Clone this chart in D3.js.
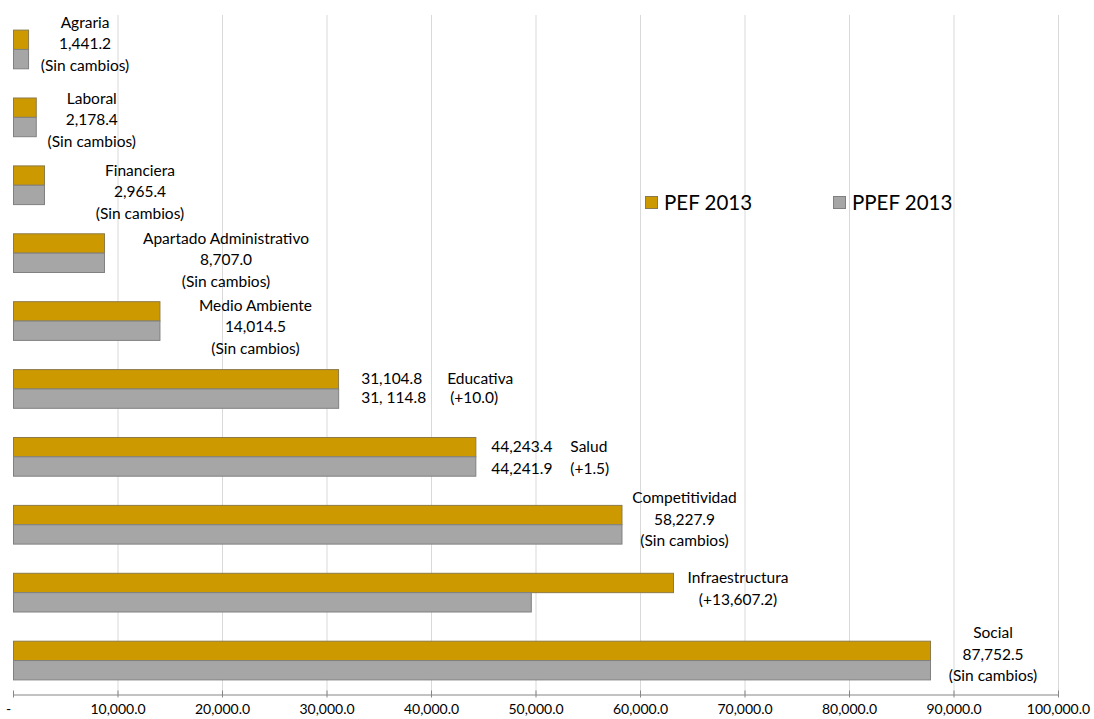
<!DOCTYPE html>
<html><head><meta charset="utf-8">
<script src="https://cdn.jsdelivr.net/npm/d3@7"></script>
<style>body{margin:0;background:#fff;} text{font-family:Lato,"Open Sans",sans-serif;}</style>
</head><body>
<svg id="c" width="1094" height="719"></svg>
<script>
const categories = ["Agraria","Laboral","Financiera","Apartado Administrativo","Medio Ambiente","Educativa","Salud","Competitividad","Infraestructura","Social"];
const pef2013  = [1441.2, 2178.4, 2965.4, 8707.0, 14014.5, 31104.8, 44243.4, 58227.9, 63157.2, 87752.5];
const ppef2013 = [1441.2, 2178.4, 2965.4, 8707.0, 14014.5, 31114.8, 44241.9, 58227.9, 49550.0, 87752.5];
const seriesNames = ["PEF 2013","PPEF 2013"];
const tickValues = [0,10000,20000,30000,40000,50000,60000,70000,80000,90000,100000];
const tickLabels = ["-","10,000.0","20,000.0","30,000.0","40,000.0","50,000.0","60,000.0","70,000.0","80,000.0","90,000.0","100,000.0"];
// annotation text lines per category
const annotations = [
  ["Agraria","1,441.2","(Sin cambios)"],
  ["Laboral","2,178.4","(Sin cambios)"],
  ["Financiera","2,965.4","(Sin cambios)"],
  ["Apartado Administrativo","8,707.0","(Sin cambios)"],
  ["Medio Ambiente","14,014.5","(Sin cambios)"],
  null,
  null,
  ["Competitividad","58,227.9","(Sin cambios)"],
  ["Infraestructura","(+13,607.2)"],
  ["Social","87,752.5","(Sin cambios)"]
];
const splitAnnotations = {5: {vals:["31,104.8","31, 114.8"], name:["Educativa","(+10.0)"]},
                          6: {vals:["44,243.4","44,241.9"], name:["Salud","(+1.5)"]}};
// layout offsets (label placement relative to bar end / group centre)
const labelDx = [57,56,96,122,96,0,0,63,65,63];
const labelDy = [-26,-18,-14,-14,-15,0,0,-26,-14,-27];

const colors = ["#CC9A00","#A6A6A6"];
const strokes = ["#8c7a4a","#808080"];

const svg = d3.select("#c");
const x = d3.scaleLinear().domain([0,100000]).range([13,1058]);
const y = d3.scaleBand().domain(categories).range([15,694]).paddingInner(0.43).paddingOuter(0.215);
const sub = d3.scaleBand().domain(seriesNames).range([0,y.bandwidth()]);

// gridlines
svg.append("g").selectAll("line").data(tickValues.slice(1)).join("line")
  .attr("x1",d=>x(d)+0.5).attr("x2",d=>x(d)+0.5).attr("y1",15).attr("y2",694)
  .attr("stroke","#d9d9d9").attr("stroke-width",1);

// axis
const ax = svg.append("g").attr("transform","translate(0,694.5)")
  .call(d3.axisBottom(x).tickValues(tickValues).tickFormat((d,i)=>tickLabels[i]).tickSizeInner(0).tickSizeOuter(0).tickPadding(10));
ax.select(".domain").attr("stroke","#868686");
ax.selectAll(".tick line").attr("y1",-4).attr("y2",3).attr("stroke","#868686");
ax.selectAll(".tick text").attr("font-size","14px").attr("fill","#000").attr("font-family","Lato, sans-serif");
ax.selectAll(".tick text").filter(d=>d===0).attr("dx",-5);

// bars
const seriesVals = [pef2013, ppef2013];
seriesVals.forEach((vals,si)=>{
  svg.append("g").selectAll("rect").data(vals).join("rect")
    .attr("x",x(0)+0.5)
    .attr("y",(d,i)=>y(categories[i])+sub(seriesNames[si])+0.5)
    .attr("width",d=>x(d)-x(0))
    .attr("height",sub.bandwidth())
    .attr("fill",colors[si]).attr("stroke",strokes[si]).attr("stroke-width",1);
});

// annotations
const lh = 21.5;
const fs = "15.5px";
annotations.forEach((lines,i)=>{
  if(!lines) return;
  const cx = x(pef2013[i]) + labelDx[i];
  const cy = y(categories[i]) + y.bandwidth()/2 + labelDy[i];
  svg.append("text").attr("text-anchor","middle").attr("font-size",fs).attr("fill","#000")
    .selectAll("tspan").data(lines).join("tspan")
    .attr("x",cx).attr("y",(d,k)=>cy + k*lh + 5).text(d=>d);
});
Object.entries(splitAnnotations).forEach(([k,a])=>{
  const i = +k;
  const x0 = x(Math.max(pef2013[i],ppef2013[i]));
  const top = y(categories[i]);
  const off = i===5 ? 23 : 16;
  const off2 = i===5 ? 109 : 95;
  a.vals.forEach((t,j)=>{
    svg.append("text").attr("x",x0+off).attr("y",top+sub(seriesNames[j])+sub.bandwidth()/2+5 + (j===1&&i===6?3:0))
      .attr("font-size",fs).text(t);
  });
  svg.append("text").attr("x",x0+off2).attr("y",top+sub(seriesNames[0])+sub.bandwidth()/2+5).attr("font-size",fs).text(a.name[0]);
  svg.append("text").attr("x",x0+off2+(i===5?3:0)).attr("y",top+sub(seriesNames[1])+sub.bandwidth()/2+5+(i===6?3:0)).attr("font-size",fs).text(a.name[1]);
});

// legend
const lg = svg.append("g");
const legX = [645,833];
seriesNames.forEach((n,i)=>{
  lg.append("rect").attr("x",legX[i]+0.5).attr("y",196.5).attr("width",12).attr("height",12)
    .attr("fill",colors[i]).attr("stroke",strokes[i]);
  lg.append("text").attr("x",legX[i]+19).attr("y",210).attr("font-size","20.5px").text(n);
});
</script>
</body></html>
